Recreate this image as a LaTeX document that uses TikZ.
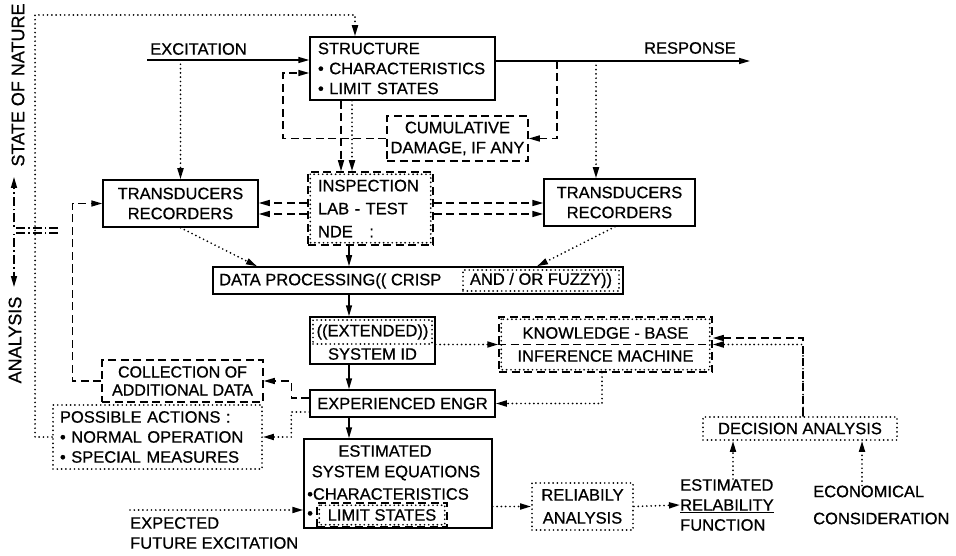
\documentclass[tikz,border=0pt]{standalone}
\usepackage{fontspec}
\setmainfont{Liberation Sans}[FakeBold=0.7]
\usetikzlibrary{arrows.meta}

\tikzset{
  >={Triangle[length=11pt,width=6pt]},
  every node/.style={font=\fontsize{16.5}{20}\selectfont, inner sep=0pt},
  solidln/.style={line width=1.5pt},
  dashln/.style={line width=1.5pt, dash pattern=on 8pt off 4.5pt},
  dotln/.style={line width=1.9pt, line cap=round, dash pattern=on 0pt off 4.3pt},
  chainln/.style={line width=1.5pt, dash pattern=on 9pt off 3pt on 1.5pt off 3pt},
  box/.style={draw, solidln},
  dashbox/.style={draw, dashln},
  dotbox/.style={draw, dotln},
}

\begin{document}
\begin{tikzpicture}[x=1pt,y=-1pt]
\useasboundingbox (0,0) rectangle (956,556);

% boxes
\node[box, minimum width=185pt, minimum height=63pt, inner xsep=8pt, text width=169pt, align=left] (struct) at (402.5,68.5) {STRUCTURE\\• CHARACTERISTICS\\• LIMIT STATES};
\node[dashbox, minimum width=141pt, minimum height=45pt, align=center] (cumul) at (457.5,138.5) {CUMULATIVE\\DAMAGE, IF ANY};
\node[dashbox, minimum width=125pt, minimum height=73pt, inner xsep=10pt, text width=105pt, align=left, font=\fontsize{16.5}{23}\selectfont] (insp) at (370.5,208.5) {INSPECTION\\LAB - TEST\\NDE\ \ \ :};
\draw[dotln] ([shift={(3,3)}]insp.north west) rectangle ([shift={(-3,-3)}]insp.south east);
\node[box, minimum width=155pt, minimum height=47pt, align=center] (trl) at (180.5,203.5) {TRANSDUCERS\\RECORDERS};
\node[box, minimum width=151pt, minimum height=47pt, align=center] (trr) at (619.5,202.5) {TRANSDUCERS\\RECORDERS};

\node[box, minimum width=410pt, minimum height=27pt] (dp) at (418,280.5) {};
\node[anchor=west] (dpa) at (219,281) {DATA PROCESSING(( CRISP};
\node[dotbox, minimum width=156pt, minimum height=21pt] (dpb) at (541,280.5) {AND / OR FUZZY))};

\node[box, minimum width=125pt, minimum height=47pt] (sysid) at (372.5,340.5) {};
\node[dotbox, minimum width=119pt, minimum height=24pt] (ext) at (372.5,332) {((EXTENDED))};
\node (sid) at (372.5,354) {SYSTEM ID};

\node[dashbox, minimum width=213pt, minimum height=55pt, align=center, font=\fontsize{16.5}{23}\selectfont] (kb) at (605.5,344.5) {KNOWLEDGE - BASE\\INFERENCE MACHINE};
\draw[dotln] ([shift={(3,3)}]kb.north west) rectangle ([shift={(-3,-3)}]kb.south east);
\draw[dashln] (kb.west) -- (kb.east);

\node[box, minimum width=185pt, minimum height=27pt] (exp) at (402.5,403.5) {EXPERIENCED ENGR};
\node[dashbox, minimum width=161pt, minimum height=42pt, align=center, font=\fontsize{16}{18}\selectfont] (coll) at (182.5,381) {COLLECTION OF\\ADDITIONAL DATA};
\node[dotbox, minimum width=209pt, minimum height=64pt, inner xsep=7pt, text width=195pt, align=left] (poss) at (157.5,437) {POSSIBLE ACTIONS :\\• NORMAL OPERATION\\• SPECIAL MEASURES};

\node[box, minimum width=188pt, minimum height=89pt] (est) at (398,483.5) {};
\node (esta) at (385,451) {ESTIMATED};
\node (estb) at (396,473) {SYSTEM EQUATIONS};
\node[anchor=west] (estc) at (307,494) {•CHARACTERISTICS};
\node[anchor=west] (estd) at (307,515) {•};
\node[dashbox, minimum width=130pt, minimum height=24pt] (lim) at (382,515) {LIMIT STATES};
\draw[dotln] ([shift={(3,3)}]lim.north west) rectangle ([shift={(-3,-3)}]lim.south east);

\node[dotbox, minimum width=101pt, minimum height=47pt, align=center, font=\fontsize{16.5}{23}\selectfont] (rel) at (582.5,506.5) {RELIABILY\\ANALYSIS};
\node[dotbox, minimum width=194pt, minimum height=23pt] (dec) at (800,428.5) {DECISION ANALYSIS};

% free texts
\node (exc) at (198.5,49) {EXCITATION};
\node (resp) at (690,48) {RESPONSE};
\node[anchor=west, align=left] (erf) at (680,505) {ESTIMATED\\\underline{RELABILITY}\\FUNCTION};
\node[anchor=west, align=left, font=\fontsize{16.5}{27}\selectfont] (econ) at (813,505) {ECONOMICAL\\CONSIDERATION};
\node[anchor=west, align=left] (expct) at (130,533) {EXPECTED\\FUTURE EXCITATION};
\node[rotate=90, font=\fontsize{18}{20}\selectfont] (son) at (18,85) {STATE OF NATURE};
\node[rotate=90, font=\fontsize{18}{20}\selectfont] (ana) at (15,340) {ANALYSIS};

% free ends
\coordinate (exc0) at (147,60);
\coordinate (resp0) at (750,61);
\coordinate (rd) at (557,61);
\coordinate (rt) at (596,61);
\coordinate (ax) at (349,0);
\coordinate (xf) at (130,510);
\coordinate (cx1) at (58,228);
\coordinate (cx2) at (58,233);
\coordinate (i1) at ([xshift=-29.5pt]insp.north);
\coordinate (i2) at ([xshift=-18.5pt]insp.north);
\coordinate (ia) at ([yshift=5.5pt]insp.west);
\coordinate (ib) at ([yshift=-5.5pt]insp.west);
\coordinate (ic) at ([yshift=5.5pt]insp.east);
\coordinate (id) at ([yshift=-5.5pt]insp.east);
\coordinate (sn) at ([xshift=-47.5pt]struct.north);
\coordinate (kd) at ([xshift=3pt]dec.north);
\coordinate (dl) at ([xshift=-67pt]dec.south);
\coordinate (dr) at ([xshift=62pt]dec.south);

% excitation and response
\draw[solidln,->] (exc0) -- (exc0 -| struct.west);
\draw[solidln,->] (resp0 -| struct.east) -- (resp0);
\draw[dotln,->] (trl.north |- exc0) -- (trl.north);
\draw[dotln,->] (rt) -- (rt |- trr.north);
\draw[dashln,->] (rd) |- (cumul.east);
\draw[dashln,->] (cumul.west) -| (283,73) -- ([yshift=-4.5pt]struct.west);

% inspection
\draw[dashln,->] (i1 |- struct.south) -- (i1);
\draw[dotln,->] (i2 |- struct.south) -- (i2);
\draw[dashln,->] (ia) -- (ia -| trl.east);
\draw[dashln,->] (ib) -- (ib -| trl.east);
\draw[dashln,->] (ic) -- (ic -| trr.west);
\draw[dashln,->] (id) -- (id -| trr.west);

% data processing and identification
\draw[dotln,->] (trl.south) -- ([xshift=-161pt]dp.north);
\draw[dotln,->] ([xshift=-4.5pt]trr.south) -- ([xshift=119pt]dp.north);
\draw[solidln,->] (ax |- insp.south) -- (ax |- dp.north);
\draw[solidln,->] (ax |- dp.south) -- (ax |- sysid.north);
\draw[solidln,->] (ax |- sysid.south) -- (ax |- exp.north);
\draw[solidln,->] (ax |- exp.south) -- (ax |- est.north);
\draw[dotln,->] (kb.west -| sysid.east) -- (kb.west);
\draw[dotln,->] ([xshift=-3.5pt]kb.south) |- (exp.east);
\draw[dashln,->] (kd) |- ([yshift=6.5pt]kb.east);
\draw[dotln,->] (kd) |- (kb.east);

% actions
\draw[dashln,->] ([yshift=5.5pt]exp.west) -- ++(-18,0) |- (coll.east);
\draw[dotln,->] ([yshift=-8.5pt]exp.west) -- ++(-18,0) |- (poss.east);
\draw[dashln,->] (coll.west) -- ++(-29,0) |- (trl.west);
\draw[dotln,->] (poss.west) -- ++(-17,0) -- ++(0,-422) -| (sn);

% reliability
\draw[dotln,->] (xf) -- (xf -| est.west);
\draw[dotln,->] (rel.west -| est.east) -- (rel.west);
\draw[dotln,->] (rel.east) -- (erf.west);
\draw[dotln,->] (dl |- erf.north) -- (dl);
\draw[dotln,->] (dr |- econ.north) -- (dr);

% state of nature / analysis
\draw[chainln,->] (cx1) -- ++(-44,0) -- ++(0,-51);
\draw[chainln,->] (cx2) -- ++(-44,0) -- ++(0,54);
\end{tikzpicture}
\end{document}
